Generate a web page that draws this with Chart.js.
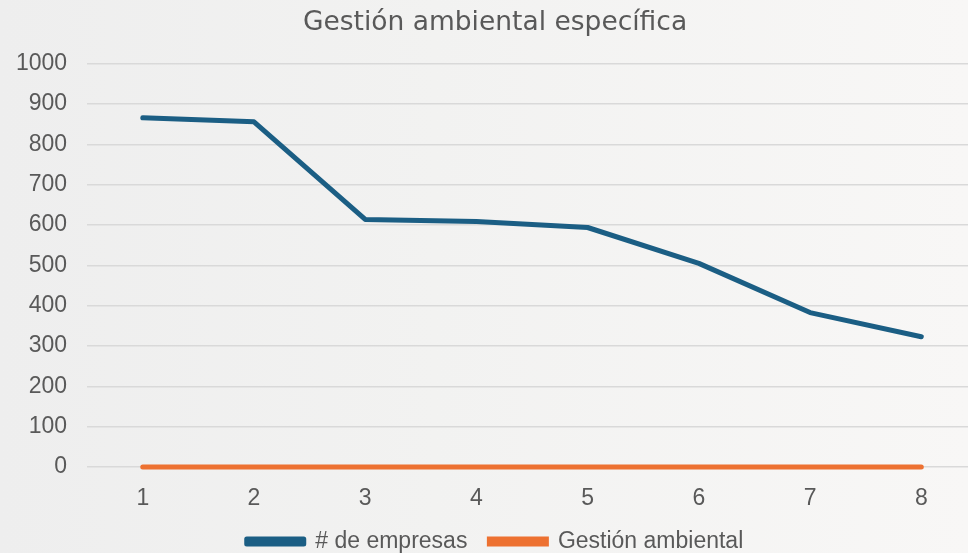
<!DOCTYPE html>
<html>
<head>
<meta charset="utf-8">
<script src="https://cdn.jsdelivr.net/npm/chart.js@4/dist/chart.umd.min.js"></script>
<style>
html,body{margin:0;padding:0;width:968px;height:553px;overflow:hidden;}
body{background:linear-gradient(90deg,#eeeeee 0%,#f2f2f1 45%,#f8f7f6 100%);}
#wrap{position:relative;width:968px;height:553px;}
</style>
</head>
<body>
<div id="wrap"><canvas id="c" width="968" height="553"></canvas></div>
<script>
const categories = [1, 2, 3, 4, 5, 6, 7, 8];
const empresas = [866, 856, 614, 609, 594, 505, 383, 323];
const gestion = [0, 0, 0, 0, 0, 0, 0, 0];
const yTicks = [0, 100, 200, 300, 400, 500, 600, 700, 800, 900, 1000];

const txt = '#595959';
const shiftBlocks = {
  id: 'shiftBlocks',
  afterLayout(chart) {
    if (chart.titleBlock) { chart.titleBlock.left += 13; chart.titleBlock.right += 13; }
    if (chart.legend) { chart.legend.left += 13; chart.legend.right += 13; }
  }
};
new Chart(document.getElementById('c'), {
  type: 'line',
  data: {
    datasets: [
      {label: '# de empresas', data: categories.map((c,i)=>({x:c,y:empresas[i]})),
       borderColor: '#1b5e84', backgroundColor: '#1b5e84', borderWidth: 5,
       pointRadius: 0, borderCapStyle: 'round', borderJoinStyle: 'round', tension: 0, clip: false},
      {label: 'Gestión ambiental', data: categories.map((c,i)=>({x:c,y:gestion[i]})),
       borderColor: '#ed7131', backgroundColor: '#ed7131', borderWidth: 5,
       pointRadius: 0, borderCapStyle: 'round', tension: 0, clip: false}
    ]
  },
  plugins: [shiftBlocks],
  options: {
    responsive: false,
    animation: false,
    layout: {padding: {left: -4, right: 0, top: 0, bottom: 0}},
    plugins: {
      title: {display: true, text: 'Gestión ambiental específica', color: txt,
        font: {family: 'DejaVu Sans', size: 26.5, weight: 'normal'}, padding: {top: 7, bottom: 25}},
      legend: {position: 'bottom', maxHeight: 45,
        labels: {color: txt, font: {family: 'Liberation Sans', size: 23}, boxWidth: 57, boxHeight: 5, padding: 22}},
      tooltip: {enabled: false}
    },
    scales: {
      x: {type: 'linear', min: 0.5, max: 8.42,
        afterBuildTicks: ax => { ax.ticks = categories.map(v => ({value: v})); },
        afterFit: ax => { ax.height = 41; },
        ticks: {color: txt, font: {family: 'Liberation Sans', size: 23}, padding: 18},
        grid: {display: false, drawTicks: false}, border: {display: false}},
      y: {min: 0, max: 1000,
        afterBuildTicks: ax => { ax.ticks = yTicks.map(v => ({value: v})); },
        ticks: {color: txt, font: {family: 'Liberation Sans', size: 23}, padding: 20,
          callback: v => String(v)},
        grid: {color: '#d9d9d9', lineWidth: 1.5, drawTicks: false}, border: {display: false}}
    }
  }
});
</script>
</body>
</html>
